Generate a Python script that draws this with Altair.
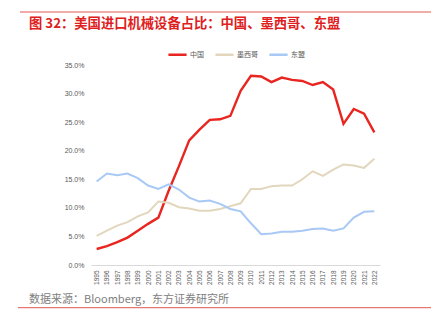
import altair as alt
import pandas as pd

years = [str(y) for y in range(1995, 2023)]
china = [2.8, 3.3, 4.0, 4.8, 6.0, 7.2, 8.3, 13.0, 17.3, 21.8, 23.7, 25.4, 25.5, 26.1,
         30.5, 33.1, 33.0, 32.0, 32.8, 32.4, 32.2, 31.5, 32.0, 30.7, 24.7, 27.3, 26.5, 23.2]
mexico = [5.1, 6.0, 6.9, 7.5, 8.5, 9.2, 11.1, 10.9, 10.1, 9.9, 9.5, 9.5, 9.8, 10.3,
          10.8, 13.3, 13.3, 13.8, 13.9, 13.9, 15.0, 16.4, 15.6, 16.7, 17.6, 17.4, 17.0, 18.6]
asean = [14.6, 16.0, 15.7, 16.0, 15.2, 13.9, 13.3, 14.1, 13.2, 11.8, 11.1, 11.3, 10.7, 9.8,
         9.4, 7.3, 5.4, 5.5, 5.8, 5.8, 6.0, 6.3, 6.4, 6.0, 6.4, 8.3, 9.3, 9.4]
series_names = ["中国", "墨西哥", "东盟"]
series_colors = ["#e8251f", "#e2d6bd", "#a8c8f5"]
y_ticks = [0, 0.05, 0.10, 0.15, 0.20, 0.25, 0.30, 0.35]

title_text = "图 32：美国进口机械设备占比：中国、墨西哥、东盟"
source_text = "数据来源：Bloomberg，东方证券研究所"

rows = []
for name, vals in zip(series_names, [china, mexico, asean]):
    for i, (yr, v) in enumerate(zip(years, vals)):
        rows.append({"year": yr, "value": v / 100.0, "series": name, "order": i})
df = pd.DataFrame(rows)

CJK = "Noto Sans CJK SC"

lines = alt.Chart(df).mark_line(clip=False).encode(
    x=alt.X("year:O", scale=alt.Scale(type="point", padding=0.55),
            axis=alt.Axis(title=None, labelAngle=-90, labelFontSize=6.5, labelColor="#595959",
                          labelFont="Liberation Sans", ticks=False, domainColor="#d9d9d9",
                          domainWidth=1, labelPadding=5)),
    y=alt.Y("value:Q", scale=alt.Scale(domain=[0, 0.35], nice=False),
            axis=alt.Axis(title=None, format=".1%", values=y_ticks, grid=False, ticks=False,
                          domain=False, labelFontSize=7, labelColor="#595959",
                          labelFont="Liberation Sans", labelPadding=7)),
    color=alt.Color("series:N",
                    scale=alt.Scale(domain=series_names, range=series_colors),
                    sort=series_names,
                    legend=alt.Legend(title=None, orient="none", direction="horizontal",
                                      legendX=76, legendY=-21, symbolType="stroke",
                                      symbolStrokeWidth=2.5, symbolSize=330,
                                      labelFontSize=7, labelColor="#595959", labelFont=CJK,
                                      columnPadding=6, labelOffset=2)),
    order="order:Q",
    strokeWidth=alt.condition(alt.datum.series == "中国", alt.value(2.4), alt.value(2.0)),
)

one = alt.Data(values=[{}])

title = alt.Chart(one).mark_text(
    text=title_text, font=CJK, fontSize=13.3, fontWeight="bold", color="#e02020",
    align="left", baseline="middle"
).encode(x=alt.value(-62), y=alt.value(-41.5))

source = alt.Chart(one).mark_text(
    text=source_text, font=CJK, fontSize=11, color="#808080",
    align="left", baseline="middle"
).encode(x=alt.value(-62), y=alt.value(235))

top_rule = alt.Chart(one).mark_rule(color="#e35650", strokeWidth=1).encode(
    x=alt.value(-71), x2=alt.value(340), y=alt.value(-53))
bottom_rule = alt.Chart(one).mark_rule(color="#e35650", strokeWidth=1).encode(
    x=alt.value(-73), x2=alt.value(340), y=alt.value(242.7))

chart = alt.layer(lines, title, source, top_rule, bottom_rule).properties(
    width=289, height=200,
    autosize=alt.AutoSizeParams(type="none"),
    padding={"left": 91, "top": 65, "right": 63, "bottom": 65},
    background="white",
).configure_view(stroke=None)

chart.save("out.html", embed_options={"renderer": "svg", "actions": False})
